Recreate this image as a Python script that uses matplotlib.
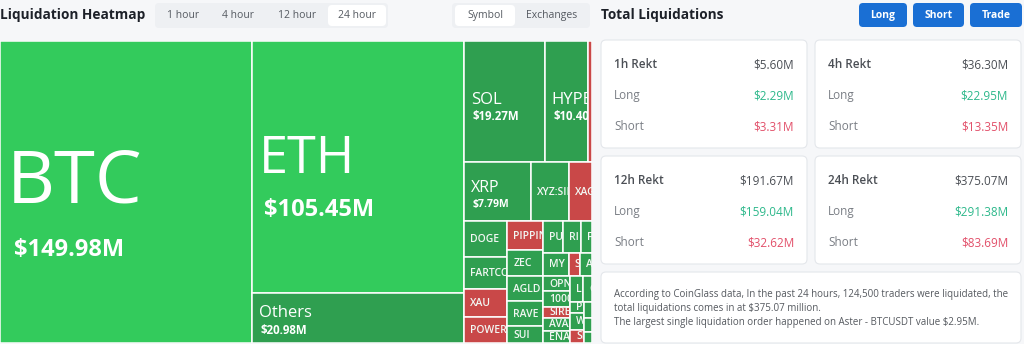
import matplotlib.pyplot as plt
from matplotlib.patches import Rectangle, FancyBboxPatch

plt.rcParams['font.family'] = ['Open Sans', 'Noto Sans', 'DejaVu Sans']

# liquidations by symbol, last 24 hours (USD millions)
symbols = ['BTC', 'ETH', 'Others', 'SOL', 'HYPE', '', 'XRP', 'XYZ:SILVER', 'XAG',
           'DOGE', 'FARTCOIN', 'XAU', 'POWER', 'PIPPIN', 'ZEC', 'AGLD', 'RAVE', 'SUI',
           'PU', 'RI', 'F', 'MY', 'SK', 'A', 'OPN', '1000', 'SIRE', 'AVAX', 'ENA',
           'L', 'G', 'PE', 'W', 'SE', '', '', '']
liq_usd_m = [149.98, 105.45, 20.98, 19.27, 10.40, 0.95, 7.79, 4.32, 2.68,
             3.06, 2.72, 2.38, 2.21, 2.07, 1.85, 1.78, 1.78, 1.21,
             1.20, 1.14, 0.70, 1.19, 0.52, 0.57, 0.78, 0.83, 0.61, 0.66, 0.66,
             0.64, 0.45, 0.30, 0.47, 0.36, 0.25, 0.22, 0.18]
short_heavy = [False, False, False, False, False, True, False, False, True,
               False, False, True, True, True, False, False, False, False,
               False, False, False, False, True, False, False, False, True, False, False,
               False, False, False, False, True, False, False, False]

# summary cards
periods = ['1h', '4h', '12h', '24h']
total_m = [5.60, 36.30, 191.67, 375.07]
long_m = [2.29, 22.95, 159.04, 291.38]
short_m = [3.31, 13.35, 32.62, 83.69]
traders_24h = 124500
largest_order_m = 2.95
largest_venue = 'Aster'
largest_pair = 'BTCUSDT'

time_tabs = ['1 hour', '4 hour', '12 hour', '24 hour']
group_tabs = ['Symbol', 'Exchanges']
buttons = ['Long', 'Short', 'Trade']

# slice-and-dice groups: 'h' splits left->right, 'v' splits top->bottom
tree = ('h', [0,
              ('v', [1, 2]),
              ('v', [('h', [3, 4, 5]),
                     ('h', [6, 7, 8]),
                     ('h', [('v', [9, 10, 11, 12]),
                            ('v', [13, 14, 15, 16, 17]),
                            ('v', [('h', [18, 19, 20]),
                                   ('h', [21, 22, 23]),
                                   ('h', [('v', [24, 25, 26, 27, 28]),
                                          ('v', [('h', [29, 30]),
                                                 ('h', [('v', [31, 32, 33]),
                                                        ('v', [34, 35, 36])])])])])])])])

GREEN_HI = '#33cb5c'
GREEN = '#2f9f50'
RED = '#c94848'
BG = '#f6f7f9'
PX = 100 / 72


def node_total(node):
    if isinstance(node, int):
        return liq_usd_m[node]
    return sum(node_total(c) for c in node[1])


def layout(node, x, y, w, h, out):
    if isinstance(node, int):
        out[node] = (x, y, w, h)
        return
    direction, children = node
    total = node_total(node)
    pos = 0.0
    for c in children:
        frac = node_total(c) / total
        if direction == 'h':
            layout(c, x + pos * w, y, frac * w, h, out)
        else:
            layout(c, x, y + pos * h, w, frac * h, out)
        pos += frac


def label_sizes(v, area):
    # (name size, value size) in points; small tiles get the name only
    if v >= 50:
        return area / 1420, 17
    if v >= 10:
        return 12, 8.3
    if v >= 5:
        return 11.5, 7.5
    return 7.5, None


fig = plt.figure(figsize=(10.24, 3.44), dpi=100, facecolor=BG)

# page chrome in pixel units
ui = fig.add_axes([0, 0, 1, 1], zorder=0)
ui.set_xlim(0, 1024)
ui.set_ylim(344, 0)
ui.axis('off')


def pill(x, y, w, h, fc, r=4, ec='none'):
    ui.add_patch(FancyBboxPatch((x, y), w, h, boxstyle=f'round,pad=0,rounding_size={r}',
                                fc=fc, ec=ec, lw=0.8))


ui.text(0, 15, 'Liquidation Heatmap', fontsize=9.8, weight='bold', color='#1d2129', va='center')
pill(155, 3, 233, 25, '#eef0f3')
pill(328, 5, 58, 21, 'white')
for label, cx in zip(time_tabs, [183, 238, 297, 357]):
    ui.text(cx, 15.5, label, fontsize=7.5, color='#555a61', ha='center', va='center')
pill(452, 3, 138, 25, '#eef0f3')
pill(455, 5, 60, 21, 'white')
for label, cx in zip(group_tabs, [485, 552]):
    ui.text(cx, 15.5, label, fontsize=7.5, color='#555a61', ha='center', va='center')

ui.text(601, 15, 'Total Liquidations', fontsize=9.8, weight='bold', color='#1d2129', va='center')
for label, (bx, bw) in zip(buttons, [(859, 48), (913, 51), (970, 52)]):
    pill(bx, 3, bw, 24, '#1a6fd4')
    ui.text(bx + bw / 2, 15.5, label, fontsize=7.5, weight='bold', color='white',
            ha='center', va='center')

for i, p in enumerate(periods):
    cx = 601 + (i % 2) * 214
    cy = 40 + (i // 2) * 116
    pill(cx, cy, 206, 108, 'white', r=5, ec='#e4e7eb')
    rows = [(f'{p} Rekt', f'${total_m[i]:.2f}M', '#4b4f55', '#4b4f55', 'semibold'),
            ('Long', f'${long_m[i]:.2f}M', '#7a7e85', '#2db88b', 'normal'),
            ('Short', f'${short_m[i]:.2f}M', '#7a7e85', '#e2506a', 'normal')]
    for j, (name, val, c1, c2, wt) in enumerate(rows):
        ty = cy + 25 + j * 31
        ui.text(cx + 13, ty, name, fontsize=8.5, color=c1, weight=wt, va='center')
        ui.text(cx + 193, ty, val, fontsize=8.5, color=c2, ha='right', va='center')

pill(601, 272, 420, 71, 'white', r=5, ec='#e4e7eb')
info = [f'According to CoinGlass data, In the past 24 hours, {traders_24h:,} traders were liquidated, the',
        f'total liquidations comes in at ${total_m[3]:.2f} million.',
        f'The largest single liquidation order happened on {largest_venue} - {largest_pair} '
        f'value ${largest_order_m:.2f}M.']
for k, line in enumerate(info):
    ui.text(614, 294 + k * 14.5, line, fontsize=7, color='#55595f', va='center')

# treemap
W, H = 592, 302
tm = fig.add_axes([0, 1 / 344, W / 1024, H / 344], zorder=1)
tm.set_xlim(0, W)
tm.set_ylim(H, 0)
tm.axis('off')

rects = {}
layout(tree, 0, 0, W, H, rects)
share = [v / sum(liq_usd_m) for v in liq_usd_m]

for i, (x, y, w, h) in rects.items():
    if short_heavy[i]:
        color = RED
    elif share[i] > 0.2:
        color = GREEN_HI
    else:
        color = GREEN
    patch = Rectangle((x, y), w, h, fc=color, ec='white', lw=1.1)
    tm.add_patch(patch)
    if not symbols[i] or w < 8 or h < 10:
        continue
    name_pt, value_pt = label_sizes(liq_usd_m[i], w * h)
    pad = 7
    if value_pt:
        cap_n = 0.714 * name_pt * PX
        cap_v = 0.714 * value_pt * PX
        gap = 0.5 * name_pt * PX
        block = cap_n + gap + cap_v
        top = y + h / 2 - block / 2 + 0.035 * h
        t1 = tm.text(x + pad, top + cap_n, symbols[i], fontsize=name_pt, color='white',
                     va='baseline', clip_on=True)
        t2 = tm.text(x + pad + 0.1 * name_pt * PX, top + block, f'${liq_usd_m[i]:.2f}M',
                     fontsize=value_pt, color='white', weight='bold', va='baseline',
                     clip_on=True)
        texts = [t1, t2]
    else:
        texts = [tm.text(x + pad - 1, y + h / 2 + 0.5, symbols[i], fontsize=name_pt,
                         color='#f2f7f3', weight='semibold', va='center', clip_on=True)]
    for t in texts:
        t.set_clip_path(patch)

fig.savefig('out.png', dpi=100, facecolor=BG)
